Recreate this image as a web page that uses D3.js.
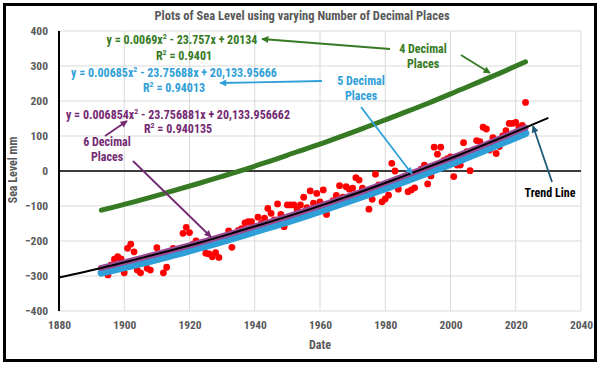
<!DOCTYPE html>
<html><head><meta charset="utf-8">
<script src="https://cdn.jsdelivr.net/npm/d3@7"></script>
<style>
html,body{margin:0;padding:0;background:#fff;}
text{font-family:'Liberation Sans Narrow','Roboto Condensed','Open Sans',sans-serif;font-weight:bold;}
</style>
</head><body>
<svg id="chart" width="600" height="365"></svg>
<script>
// ---- data ----
const title = "Plots of Sea Level using varying Number of Decimal Places";
const xTicks = [1880, 1900, 1920, 1940, 1960, 1980, 2000, 2020, 2040];
const yTicks = [-400, -300, -200, -100, 0, 100, 200, 300, 400];

const dataYears = d3.range(1893, 2024);
const seaLevel = [
 -278,-285,-297,-268,-252,-245,-251,-291,-221,-209,
 -231,-283,-291,-262,-278,-283,-250,-219,-245,-291,
 -275,-240,-221,-232,-228,-178,-161,-176,-210,-200,
 -214,-205,-235,-237,-245,-233,-247,-190,-199,-171,
 -218,-180,-170,-165,-148,-145,-145,-160,-132,-150,
 -135,-107,-121,-140,-94,-124,-159,-97,-97,-97,
 -110,-97,-75,-105,-57,-92,-64,-88,-54,-124,
 -95,-85,-70,-42,-75,-45,-52,-49,-19,-26,
 -49,-60,-109,-81,-9,-40,-88,-80,-69,22,
 0,-52,-25,-15,-59,-54,-48,-5,5,17,
 -37,-14,68,48,68,30,35,40,-16,17,
 17,81,55,1,60,87,84,125,120,60,
 95,50,70,100,115,136,136,139,125,130,196
];

const curveYears = [1893,1903,1913,1923,1933,1943,1953,1963,1973,1983,1993,2003,2013,2023];
const fit4 = [-112,-88,-62,-35,-7,23,55,87,121,157,193,232,271,312];
const fit5 = [-291,-269,-245,-220,-193,-165,-136,-105,-73,-40,-5,31,69,108];
const fit6 = [-277,-254,-230,-205,-178,-150,-121,-90,-58,-24,11,47,85,124];
const trendYears = [1880,1893,1903,1913,1923,1933,1943,1953,1963,1973,1983,1993,2003,2013,2023,2030];
const trendVals = [-304,-277,-254,-230,-205,-178,-150,-121,-90,-58,-24,11,47,85,124,152];

const eq4 = ["y = 0.0069x", "2", " - 23.757x + 20134"]; const r4 = "0.9401";
const eq5 = ["y = 0.00685x", "2", " - 23.75688x + 20,133.95666"]; const r5 = "0.94013";
const eq6 = ["y = 0.006854x", "2", " - 23.756881x + 20,133.956662"]; const r6 = "0.940135";

// ---- drawing ----
const svg = d3.select("#chart");
const C = {green:"#367a24", blue:"#2f9fd8", purple:"#742a72", purpleLine:"#9a4c97", red:"#ff0000", gray:"#595959", grid:"#d9d9d9", teal:"#1f5a78"};

const x = d3.scaleLinear().domain([1880, 2040]).range([59, 581]);
const y = d3.scaleLinear().domain([-400, 400]).range([311, 31]);

svg.append("rect").attr("x",0).attr("y",0).attr("width",600).attr("height",365).attr("fill","#fff");
svg.append("rect").attr("x",4.5).attr("y",4.5).attr("width",591).attr("height",356)
  .attr("fill","none").attr("stroke","#000").attr("stroke-width",3);

// markers
const defs = svg.append("defs");
function marker(id, color){
  defs.append("marker").attr("id",id).attr("viewBox","0 0 10 10").attr("refX",9).attr("refY",5)
    .attr("markerWidth",8).attr("markerHeight",7).attr("markerUnits","userSpaceOnUse")
    .attr("orient","auto").append("path").attr("d","M0,0 L10,5 L0,10 z").attr("fill",color);
}
marker("mg", C.green); marker("mb", C.blue); marker("mp", C.purple); marker("mt", C.teal);

// grid
const g = svg.append("g");
g.selectAll(".hg").data(yTicks).join("line")
  .attr("x1", x(1880)).attr("x2", x(2040)).attr("y1", d=>y(d)).attr("y2", d=>y(d))
  .attr("stroke", C.grid).attr("stroke-width",1);
g.selectAll(".vg").data(xTicks.slice(1)).join("line")
  .attr("x1", d=>x(d)).attr("x2", d=>x(d)).attr("y1", y(400)).attr("y2", y(-400))
  .attr("stroke", C.grid).attr("stroke-width",1);

// axes
const xAxis = d3.axisBottom(x).tickValues(xTicks).tickFormat(d3.format("d")).tickSize(0).tickPadding(10);
const xa = svg.append("g").attr("transform",`translate(0,${y(-400)})`).call(xAxis);
xa.select(".domain").remove();
xa.selectAll("text").attr("fill",C.gray).style("font-size","11.5px");
const yAxis = d3.axisLeft(y).tickValues(yTicks).tickFormat(d3.format("d")).tickSize(0).tickPadding(11);
const ya = svg.append("g").attr("transform",`translate(${x(1880)},0)`).call(yAxis);
ya.select(".domain").remove();
ya.selectAll("text").attr("fill",C.gray).style("font-size","11.5px");

svg.append("line").attr("x1",x(1880)).attr("x2",x(1880)).attr("y1",y(400)).attr("y2",y(-400))
  .attr("stroke","#000").attr("stroke-width",2);
svg.append("line").attr("x1",x(1880)).attr("x2",x(2040)).attr("y1",y(0)).attr("y2",y(0))
  .attr("stroke","#000").attr("stroke-width",1.5);

// red data
svg.append("g").selectAll("circle").data(dataYears).join("circle")
  .attr("cx",(d)=>x(d)).attr("cy",(d,i)=>y(seaLevel[i])).attr("r",3.4).attr("fill",C.red);

// curves
const line = d3.line().x(d=>x(d[0])).y(d=>y(d[1])).curve(d3.curveCatmullRom);
function pairs(xs, ys){ return xs.map((v,i)=>[v, ys[i]]); }
svg.append("path").datum(pairs(curveYears, fit4)).attr("d",line).attr("fill","none")
  .attr("stroke",C.green).attr("stroke-width",5).attr("stroke-linecap","round");
svg.append("path").datum(pairs(curveYears, fit5)).attr("d",line).attr("fill","none")
  .attr("stroke",C.blue).attr("stroke-width",7.5).attr("stroke-linecap","round");
svg.append("path").datum(pairs(curveYears, fit6)).attr("d",line).attr("fill","none")
  .attr("stroke",C.purpleLine).attr("stroke-width",6).attr("stroke-linecap","round");
svg.append("path").datum(pairs(trendYears, trendVals)).attr("d",line).attr("fill","none")
  .attr("stroke","#000").attr("stroke-width",2);

// title & axis titles
svg.append("text").attr("x",302).attr("y",17).attr("text-anchor","middle").attr("dominant-baseline","middle")
  .attr("fill",C.gray).style("font-size","12.5px").text(title);
svg.append("text").attr("x",320).attr("y",346).attr("text-anchor","middle").attr("dominant-baseline","middle")
  .attr("fill",C.gray).style("font-size","12px").text("Date");
svg.append("text").attr("transform","translate(14,170) rotate(-90)").attr("text-anchor","middle")
  .attr("dominant-baseline","middle").attr("fill",C.gray).style("font-size","12px").text("Sea Level mm");

// equations
function eq(parts, cx, cy, color){
  const t = svg.append("text").attr("x",cx).attr("y",cy).attr("text-anchor","middle")
    .attr("dominant-baseline","middle").attr("fill",color).style("font-size","12px");
  t.append("tspan").text(parts[0]);
  t.append("tspan").attr("dy",-4).style("font-size","8px").text(parts[1]);
  t.append("tspan").attr("dy",4).text(parts[2]);
}
function rsq(val, cx, cy, color){
  const t = svg.append("text").attr("x",cx).attr("y",cy).attr("text-anchor","middle")
    .attr("dominant-baseline","middle").attr("fill",color).style("font-size","12px");
  t.append("tspan").text("R");
  t.append("tspan").attr("dy",-4).style("font-size","8px").text("2");
  t.append("tspan").attr("dy",4).text(" = " + val);
}
function label(txt, cx, cy, color){
  svg.append("text").attr("x",cx).attr("y",cy).attr("text-anchor","middle")
    .attr("dominant-baseline","middle").attr("fill",color).style("font-size","12px").text(txt);
}
function arrow(x1,y1,x2,y2,color,m){
  svg.append("line").attr("x1",x1).attr("y1",y1).attr("x2",x2).attr("y2",y2)
    .attr("stroke",color).attr("stroke-width",1.8).attr("marker-end",`url(#${m})`);
}

eq(eq4, 182, 41, C.green); rsq(r4, 184, 57, C.green);
eq(eq5, 174, 74, C.blue); rsq(r5, 174, 89, C.blue);
eq(eq6, 178, 116, C.purple); rsq(r6, 178, 130, C.purple);

label("4 Decimal", 423, 50, C.green); label("Places", 423, 65, C.green);
label("5 Decimal", 361, 82, C.blue); label("Places", 361, 97, C.blue);
label("6 Decimal", 107, 143, C.purple); label("Places", 107, 158, C.purple);
label("Trend Line", 550, 194, "#000");

arrow(390, 49, 262, 39, C.green, "mg");
arrow(461, 55, 490, 73, C.green, "mg");
arrow(322, 81, 220, 83, C.blue, "mb");
arrow(361, 107, 412, 174, C.blue, "mb");
arrow(105, 136, 127, 121, C.purple, "mp");
arrow(133, 161, 211, 237, C.purple, "mp");
arrow(552, 182, 533, 126, C.teal, "mt");
</script>
</body></html>
